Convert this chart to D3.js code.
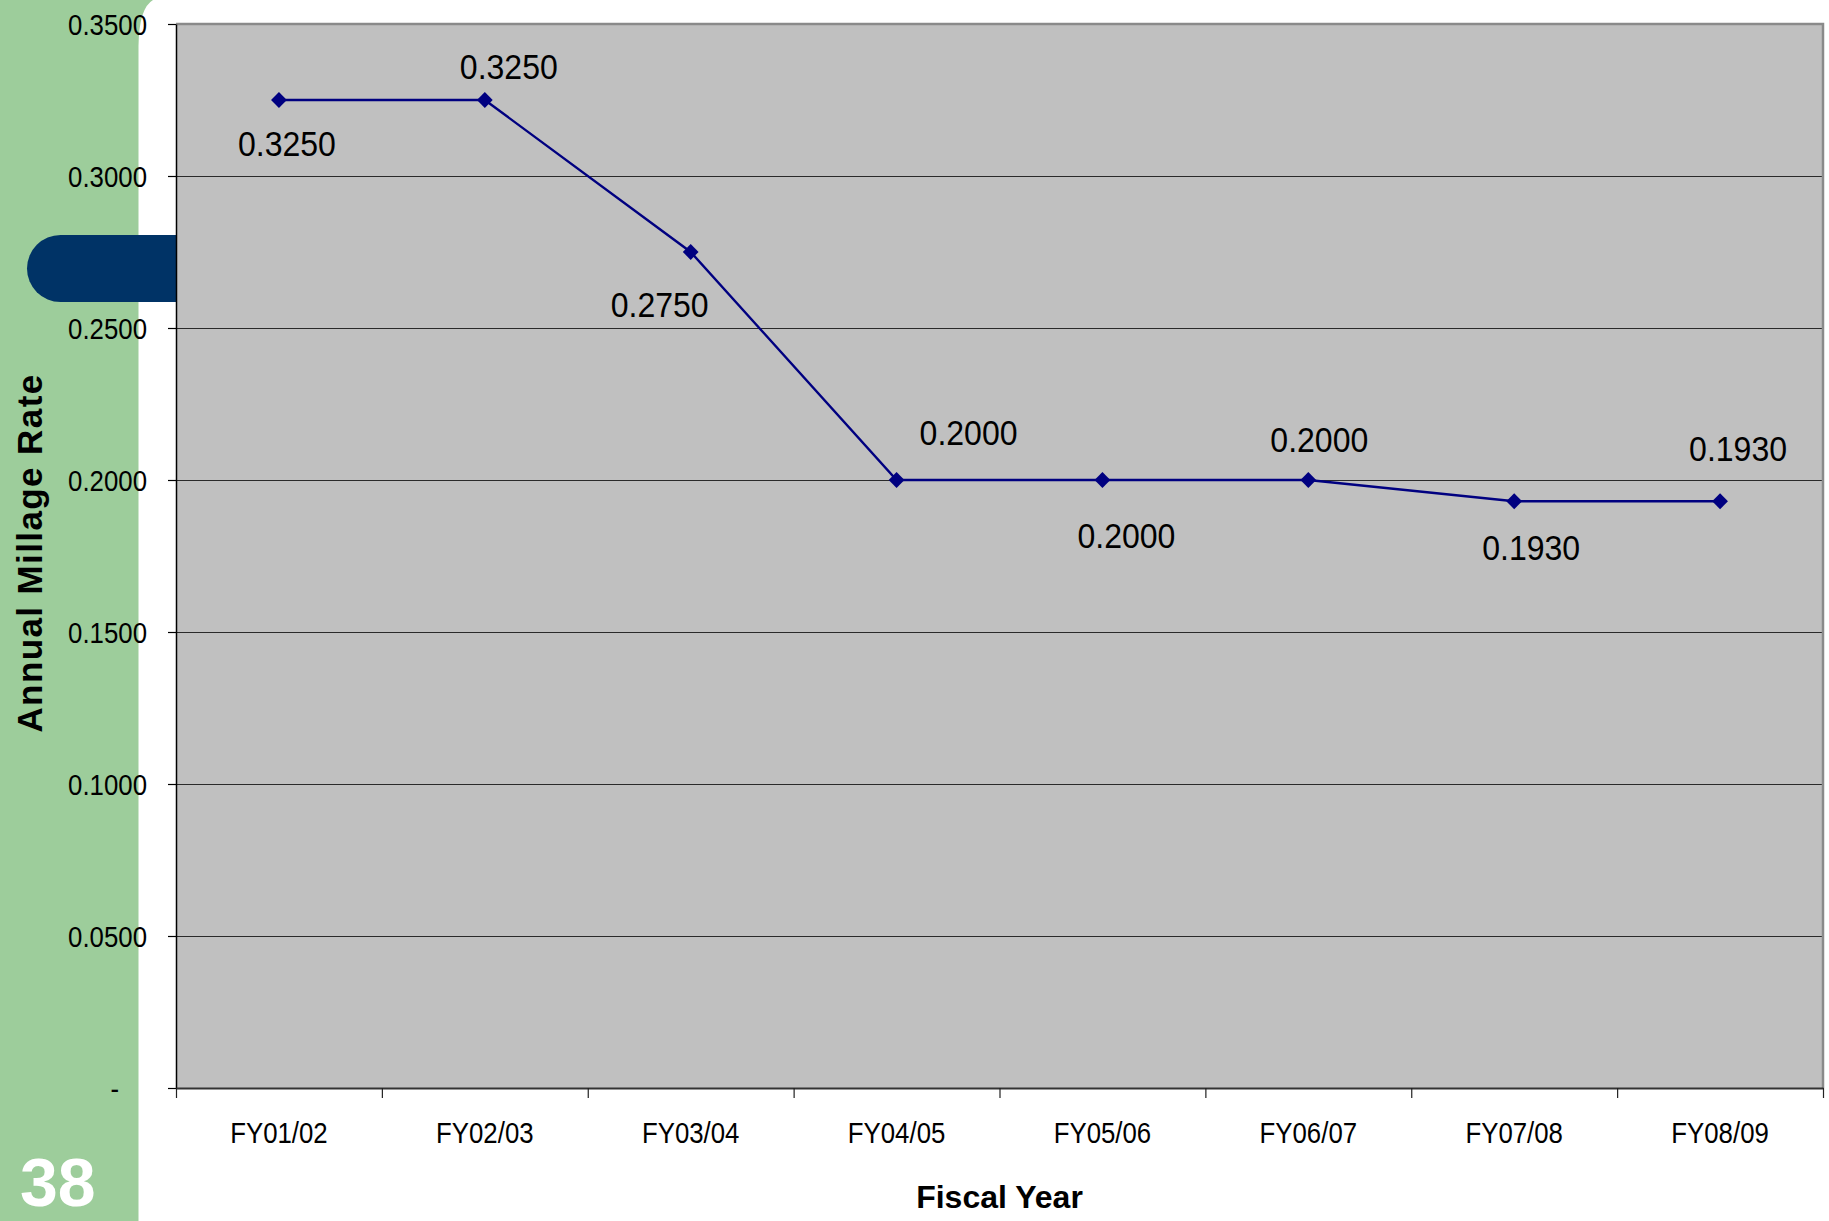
<!DOCTYPE html>
<html>
<head>
<meta charset="utf-8">
<script src="https://cdn.jsdelivr.net/npm/d3@7/dist/d3.min.js"></script>
<style>
  html, body { margin: 0; padding: 0; background: #ffffff; }
  svg { display: block; }
  text { font-family: "Liberation Sans", Arial, sans-serif; fill: #000; }
</style>
</head>
<body>
<svg id="chart" width="1829" height="1221"></svg>
<script>
// Annual millage rate by fiscal year
const categories = ["FY01/02", "FY02/03", "FY03/04", "FY04/05", "FY05/06", "FY06/07", "FY07/08", "FY08/09"];
const millageRates = [0.3250, 0.3250, 0.2750, 0.2000, 0.2000, 0.2000, 0.1930, 0.1930];
const yTickValues = [0, 0.05, 0.10, 0.15, 0.20, 0.25, 0.30, 0.35];

// where each value label sits relative to its point (px)
const labelOffsets = [[8, 56], [24, -21], [-31, 65], [72, -35], [24, 68], [11, -28], [17, 59], [18, -40]];

const W = 1829, H = 1221;
const plot = { left: 176, right: 1823, top: 24, bottom: 1088 };

const svg = d3.select("#chart");

// page decoration: green side band with a flared top, and the dark tab
svg.append("rect").attr("width", W).attr("height", H).attr("fill", "#ffffff");
svg.append("path")
  .attr("d", "M0,0 L153,0 Q139,8 138.5,46 L138.5," + H + " L0," + H + " Z")
  .attr("fill", "#9dcd9b");
svg.append("rect")
  .attr("x", 27).attr("y", 235).attr("width", 220).attr("height", 67)
  .attr("rx", 33.5).attr("ry", 33.5)
  .attr("fill", "#003366");

const x = d3.scaleBand().domain(categories).range([plot.left, plot.right]);
const xEdges = d3.scaleLinear().domain([0, categories.length]).range([plot.left, plot.right]);
const y = d3.scaleLinear().domain([0, 0.35]).range([plot.bottom, plot.top]);

// plot area
svg.append("rect")
  .attr("x", plot.left).attr("y", plot.top)
  .attr("width", plot.right - plot.left).attr("height", plot.bottom - plot.top)
  .attr("fill", "#c0c0c0");

// horizontal gridlines
svg.append("g")
  .selectAll("line")
  .data(yTickValues.filter(v => v > 0 && v < 0.35))
  .join("line")
  .attr("x1", plot.left).attr("x2", plot.right)
  .attr("y1", d => Math.round(y(d)) + 0.5).attr("y2", d => Math.round(y(d)) + 0.5)
  .attr("stroke", "#2a2a2a").attr("stroke-width", 1);

// top and right border
svg.append("path")
  .attr("d", `M${plot.left},${plot.top} L${plot.right},${plot.top} L${plot.right},${plot.bottom}`)
  .attr("fill", "none").attr("stroke", "#8a8a8a").attr("stroke-width", 2.5);

// y axis
const yAxis = svg.append("g")
  .attr("transform", `translate(${plot.left},0)`)
  .call(d3.axisLeft(y)
    .tickValues(yTickValues)
    .tickFormat(d => d === 0 ? "-" : d3.format(".4f")(d))
    .tickSize(8)
    .tickSizeOuter(0));
yAxis.select(".domain").attr("stroke", "#000").attr("stroke-width", 1.5);
yAxis.selectAll(".tick line").attr("stroke", "#000").attr("stroke-width", 1.2);
yAxis.selectAll(".tick text")
  .attr("x", 0).attr("dy", "0.35em")
  .attr("text-anchor", "end")
  .attr("transform", d => `translate(${d === 0 ? -57 : -29},0) scale(0.86,1)`)
  .style("font-size", "30px")
  .attr("fill", "#000");

// x axis: category boundary ticks
const xTicks = svg.append("g")
  .attr("transform", `translate(0,${plot.bottom})`)
  .call(d3.axisBottom(xEdges)
    .tickValues(d3.range(categories.length + 1))
    .tickFormat("")
    .tickSize(10)
    .tickSizeOuter(0));
xTicks.select(".domain").attr("stroke", "#333").attr("stroke-width", 2);
xTicks.selectAll(".tick line").attr("stroke", "#222").attr("stroke-width", 1.2);

// x axis: category labels
const xLabels = svg.append("g")
  .attr("transform", `translate(0,${plot.bottom})`)
  .call(d3.axisBottom(x).tickSize(0).tickSizeOuter(0));
xLabels.select(".domain").remove();
xLabels.selectAll(".tick text")
  .attr("x", 0).attr("y", 0).attr("dy", 0)
  .attr("text-anchor", "middle")
  .attr("transform", "translate(0,55) scale(0.86,1)")
  .style("font-size", "30px")
  .attr("fill", "#000");

// series line
const line = d3.line()
  .x((d, i) => x(categories[i]) + x.bandwidth() / 2)
  .y(d => y(d));
svg.append("path")
  .datum(millageRates)
  .attr("d", line)
  .attr("fill", "none")
  .attr("stroke", "#000080")
  .attr("stroke-width", 2.4);

// diamond markers
svg.append("g")
  .selectAll("path")
  .data(millageRates)
  .join("path")
  .attr("d", d3.symbol(d3.symbolSquare, 125))
  .attr("transform", (d, i) => `translate(${x(categories[i]) + x.bandwidth() / 2},${y(d)}) rotate(45)`)
  .attr("fill", "#000080");

// value labels
svg.append("g")
  .selectAll("text")
  .data(millageRates)
  .join("text")
  .attr("text-anchor", "middle")
  .attr("transform", (d, i) => {
    const px = x(categories[i]) + x.bandwidth() / 2 + labelOffsets[i][0];
    const py = y(d) + labelOffsets[i][1];
    return `translate(${px},${py}) scale(0.89,1)`;
  })
  .style("font-size", "36px")
  .text(d => d3.format(".4f")(d));

// axis titles
svg.append("text")
  .attr("x", (plot.left + plot.right) / 2).attr("y", 1208)
  .attr("text-anchor", "middle")
  .style("font-size", "32px").style("font-weight", "bold")
  .text("Fiscal Year");

svg.append("text")
  .attr("transform", "translate(42,553) rotate(-90)")
  .attr("text-anchor", "middle")
  .style("font-size", "35px").style("font-weight", "bold")
  .style("letter-spacing", "1.4px")
  .text("Annual Millage Rate");

// page number
svg.append("text")
  .attr("x", 20).attr("y", 1206)
  .style("font-size", "68px").style("font-weight", "bold")
  .style("fill", "#ffffff")
  .text("38");
</script>
</body>
</html>
